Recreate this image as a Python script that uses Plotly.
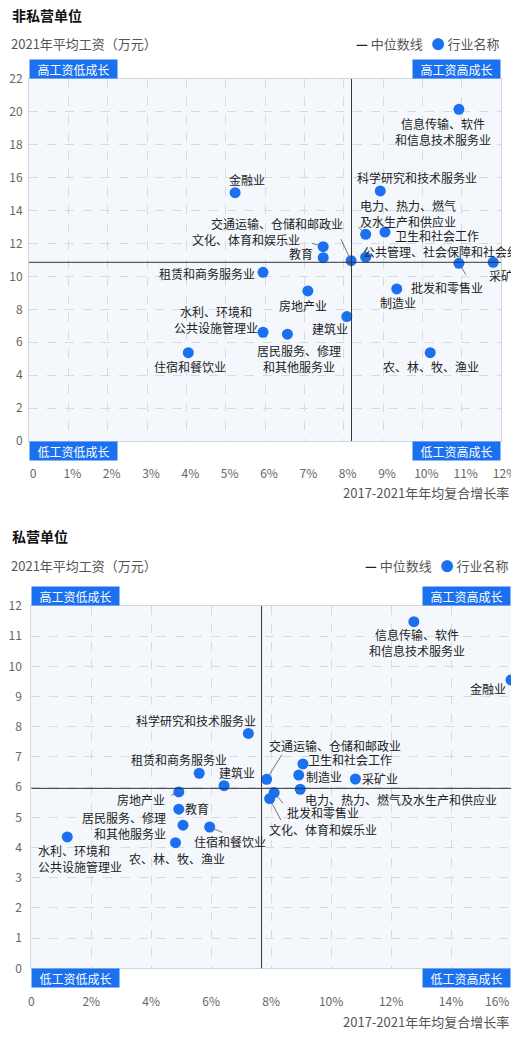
import plotly.graph_objects as go

# ---- data: 非私营单位 ----
names_a = ["信息传输、软件和信息技术服务业", "金融业", "科学研究和技术服务业",
           "电力、热力、燃气及水生产和供应业", "卫生和社会工作", "公共管理、社会保障和社会组织",
           "交通运输、仓储和邮政业", "文化、体育和娱乐业", "教育", "采矿业", "批发和零售业",
           "租赁和商务服务业", "房地产业", "制造业", "建筑业", "水利、环境和公共设施管理业",
           "居民服务、修理和其他服务业", "住宿和餐饮业", "农、林、牧、渔业"]
growth_a = [10.93, 5.24, 8.93, 8.56, 9.05, 8.56, 8.19, 7.48, 7.48, 11.8, 10.93,
            5.95, 7.09, 9.35, 8.08, 5.95, 6.57, 4.05, 10.2]
wage_a = [20.16, 15.09, 15.2, 12.56, 12.7, 11.17, 10.96, 11.81, 11.14, 10.86, 10.8,
          10.25, 9.12, 9.24, 7.56, 6.61, 6.49, 5.37, 5.37]
median_a = (8.2, 10.86)

# ---- data: 私营单位 ----
names_b = ["信息传输、软件和信息技术服务业", "金融业", "科学研究和技术服务业",
           "交通运输、仓储和邮政业", "卫生和社会工作", "租赁和商务服务业", "建筑业", "制造业",
           "采矿业", "电力、热力、燃气及水生产和供应业", "批发和零售业", "文化、体育和娱乐业",
           "房地产业", "教育", "居民服务、修理和其他服务业", "住宿和餐饮业", "农、林、牧、渔业",
           "水利、环境和公共设施管理业"]
growth_b = [12.76, 16.0, 7.24, 7.85, 9.06, 5.6, 6.43, 8.92, 10.81, 8.97, 8.1, 7.95,
            4.92, 4.92, 5.06, 5.95, 4.81, 1.2]
wage_b = [11.48, 9.55, 7.78, 6.26, 6.77, 6.46, 6.05, 6.4, 6.27, 5.93, 5.82, 5.62,
          5.84, 5.27, 4.74, 4.68, 4.16, 4.35]
median_b = (7.68, 5.96)

xticks_a = list(range(0, 13))
xticks_b = list(range(0, 17, 2))

# label placement: text, xshift, yshift, xanchor, align, leader (ax, ay) or None
place_a = {
    "信息传输、软件和信息技术服务业": ("信息传输、软件<br>和信息技术服务业", -16, -22, "center", "center", None),
    "金融业": ("金融业", 12, 13, "center", "center", None),
    "科学研究和技术服务业": ("科学研究和技术服务业", 37, 13, "center", "center", None),
    "电力、热力、燃气及水生产和供应业": ("电力、热力、燃气<br>及水生产和供应业", -8, 21, "left", "left", (-9, -9)),
    "卫生和社会工作": ("卫生和社会工作", 8, -3, "left", "left", None),
    "公共管理、社会保障和社会组织": ("公共管理、社会保障和社会组织", -5, 6, "left", "left", None),
    "交通运输、仓储和邮政业": ("交通运输、仓储和邮政业", -6, 37, "right", "right", (-11, -23)),
    "文化、体育和娱乐业": ("文化、体育和娱乐业", -21, 7, "right", "right", (-13, -4)),
    "教育": ("教育", -8, 4, "right", "right", None),
    "采矿业": ("采矿业", -6, -13, "left", "left", None),
    "批发和零售业": ("批发和零售业", 26, -24, "right", "right", (8, 13)),
    "租赁和商务服务业": ("租赁和商务服务业", -6, -1, "right", "right", None),
    "房地产业": ("房地产业", -5, -15, "center", "center", None),
    "制造业": ("制造业", 1, -14, "center", "center", None),
    "建筑业": ("建筑业", 3, -12, "right", "right", None),
    "水利、环境和公共设施管理业": ("水利、环境和<br>公共设施管理业", -47, 13, "center", "center", None),
    "居民服务、修理和其他服务业": ("居民服务、修理<br>和其他服务业", 12, -24, "center", "center", None),
    "住宿和餐饮业": ("住宿和餐饮业", 2, -14, "center", "center", None),
    "农、林、牧、渔业": ("农、林、牧、渔业", 1, -14, "center", "center", None),
}
place_b = {
    "信息传输、软件和信息技术服务业": ("信息传输、软件<br>和信息技术服务业", 3, -21, "center", "center", None),
    "金融业": ("金融业", -23, -9, "center", "center", None),
    "科学研究和技术服务业": ("科学研究和技术服务业", 10, 13, "right", "right", None),
    "交通运输、仓储和邮政业": ("交通运输、仓储和邮政业", 0, 34, "left", "left", (16, -26)),
    "卫生和社会工作": ("卫生和社会工作", 3, 4, "left", "left", None),
    "租赁和商务服务业": ("租赁和商务服务业", -20, 14, "center", "center", None),
    "建筑业": ("建筑业", 13, 13, "center", "center", None),
    "制造业": ("制造业", 5, -1, "left", "left", None),
    "采矿业": ("采矿业", 5, 1, "left", "left", None),
    "电力、热力、燃气及水生产和供应业": ("电力、热力、燃气及水生产和供应业", 3, -10, "left", "left", None),
    "批发和零售业": ("批发和零售业", 49, -20, "center", "center", (10, 12)),
    "文化、体育和娱乐业": ("文化、体育和娱乐业", 53, -31, "center", "center", (12, 23)),
    "房地产业": ("房地产业", -12, -8, "right", "right", (-9, 4)),
    "教育": ("教育", 4, 1, "left", "left", None),
    "居民服务、修理和其他服务业": ("居民服务、修理<br>和其他服务业", -15, 0, "right", "right", None),
    "住宿和餐饮业": ("住宿和餐饮业", 20, -14, "center", "center", (14, 6)),
    "农、林、牧、渔业": ("农、林、牧、渔业", 1, -16, "center", "center", None),
    "水利、环境和公共设施管理业": ("水利、环境和<br>公共设施管理业", -31, -22, "left", "left", None),
}

FONT = "Noto Sans CJK SC, Noto Sans, sans-serif"
BLUE = "#1a70ee"
# the page keeps an 8px body margin, so size the figure to fit inside it
OFF = 8
W, H = 519 - 2 * OFF, 1044 - 2 * OFF


def px(x):
    return (x - OFF) / W


def py(y):
    return 1 - (y - OFF) / H


fig = go.Figure()
annotations = []
shapes = []


def panel(n, names, xs, ys, median, place, title, y_title, y_sub, y_xtitle, xright):
    sfx = "" if n == 1 else str(n)
    xa, ya = "x" + sfx, "y" + sfx
    fig.add_trace(go.Scatter(x=xs, y=ys, mode="markers", xaxis=xa, yaxis=ya,
                             marker=dict(size=11, color=BLUE), cliponaxis=False,
                             hovertext=names, hoverinfo="text", showlegend=False))
    # median lines
    shapes.append(dict(type="line", xref=xa, yref=ya + " domain", x0=median[0], x1=median[0],
                       y0=0, y1=1, line=dict(color="#333", width=1)))
    shapes.append(dict(type="line", xref=xa + " domain", yref=ya, x0=0, x1=1,
                       y0=median[1], y1=median[1], line=dict(color="#333", width=1)))
    for nm, x, y in zip(names, xs, ys):
        txt, dx, dy, anc, al, lead = place[nm]
        annotations.append(dict(x=x, y=y, xref=xa, yref=ya, text=txt, showarrow=False,
                                xshift=dx, yshift=dy, xanchor=anc, yanchor="middle", align=al,
                                font=dict(size=12, color="#222", family=FONT)))
        if lead:
            annotations.append(dict(x=x, y=y, xref=xa, yref=ya, text="", showarrow=True,
                                    arrowhead=0, arrowwidth=0.8, arrowcolor="#555",
                                    ax=lead[0], ay=lead[1], standoff=5))
    # quadrant boxes
    for qt, qx, qy in [("高工资低成长", 0, 1), ("高工资高成长", 1, 1),
                       ("低工资低成长", 0, 0), ("低工资高成长", 1, 0)]:
        annotations.append(dict(x=qx, y=qy, xref=xa + " domain", yref=ya + " domain",
                                text=qt, showarrow=False, bgcolor=BLUE, width=83, height=14,
                                borderpad=2, xanchor="left" if qx == 0 else "right",
                                yanchor="bottom" if qy == 1 else "top",
                                font=dict(size=12, color="white", family=FONT)))
    # titles
    annotations.append(dict(x=px(10), y=py(y_title), xref="paper", yref="paper",
                            text="<b>" + title + "</b>", showarrow=False,
                            xanchor="left", yanchor="middle",
                            font=dict(size=14, color="#111", family=FONT)))
    annotations.append(dict(x=px(9), y=py(y_sub), xref="paper", yref="paper",
                            text="2021年平均工资（万元）", showarrow=False,
                            xanchor="left", yanchor="middle",
                            font=dict(size=13, color="#555", family=FONT)))
    annotations.append(dict(x=px(xright), y=py(y_sub), xref="paper", yref="paper",
                            text="<span style='color:#222'><b>—</b></span> 中位数线   "
                                 "<span style='color:" + BLUE + "'>●</span> 行业名称",
                            showarrow=False, xanchor="right", yanchor="middle",
                            font=dict(size=13, color="#555", family=FONT)))
    annotations.append(dict(x=1, y=py(y_xtitle), xref="paper", yref="paper",
                            text="2017-2021年年均复合增长率", showarrow=False,
                            xanchor="right", yanchor="middle",
                            font=dict(size=13, color="#555", family=FONT)))


panel(1, names_a, growth_a, wage_a, median_a, place_a, "非私营单位", 15, 44, 492, 501)
panel(2, names_b, growth_b, wage_b, median_b, place_b, "私营单位", 536, 565, 1021, 510)

# last tick label of the lower chart is pulled inside the plot edge
annotations.append(dict(x=xticks_b[-1], y=0, xref="x2", yref="y2", text=f"{xticks_b[-1]}%",
                        showarrow=False, xanchor="right", yanchor="middle", xshift=0, yshift=-32,
                        font=dict(size=12, color="#666", family=FONT)))

axis_common = dict(showgrid=True, gridcolor="#d6dbe2", griddash="dash", gridwidth=1,
                   zeroline=False, showline=True, linecolor="#d0d6de", mirror=True,
                   automargin=False,
                   tickfont=dict(size=12, color="#666", family=FONT), ticks="")

fig.update_layout(
    width=W, height=H,
    margin=dict(l=0, r=0, t=0, b=0),
    paper_bgcolor="white",
    plot_bgcolor="#f4f8fd",
    showlegend=False,
    xaxis=dict(domain=[px(29), px(501)], range=[0, 12], anchor="y",
               tickvals=xticks_a, ticktext=["0"] + [f"{v}%" for v in xticks_a[1:]],
               ticklabelstandoff=22, ticklabelshift=4, ticklabeloverflow="allow",
               **axis_common),
    yaxis=dict(domain=[py(441), py(79)], range=[0, 22], dtick=2, anchor="x",
               ticklabelstandoff=3, **axis_common),
    xaxis2=dict(domain=[px(31.3), px(511)], range=[0, 16], anchor="y2",
                tickvals=xticks_b, ticktext=["0"] + [f"{v}%" for v in xticks_b[1:-1]] + [""],
                ticklabelstandoff=22, **axis_common),
    yaxis2=dict(domain=[py(968.3), py(606)], range=[0, 12], dtick=1, anchor="x2",
                ticklabelstandoff=6, **axis_common),
    annotations=annotations,
    shapes=shapes,
    font=dict(family=FONT),
)

fig.write_html("out.html")
